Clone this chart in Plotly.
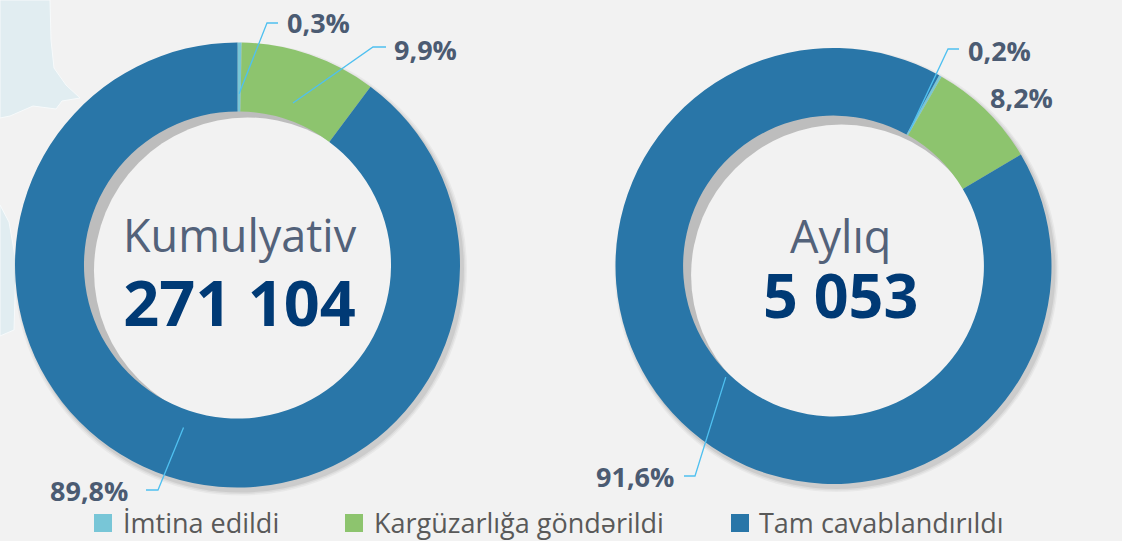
import math
import plotly.graph_objects as go

# ---------------- data ----------------
categories = ["İmtina edildi", "Kargüzarlığa göndərildi", "Tam cavablandırıldı"]
cumulative_pct = [0.3, 9.9, 89.8]
monthly_pct = [0.2, 8.2, 91.6]
chart_titles = ["Kumulyativ", "Aylıq"]
chart_totals = [271104, 5053]

# ---------------- style / layout ----------------
W, H = 1122, 541
BG = "#F2F2F2"
colors = ["#78C6D7", "#8DC46E", "#2976A8"]
LEADER = "#4FC0F0"
PCT_COLOR = "#4B5B72"
FONT = "Open Sans"


def px(x):
    return x / W


def py(y):
    return 1 - y / H


def fmt_pct(v):
    return f"{v:.1f}".replace(".", ",") + "%"


def fmt_total(n):
    return f"{n:,}".replace(",", " ")


# geometry of the two donuts (pixels)
donuts = [
    dict(values=cumulative_pct, cx=237.5, cy=265, R=222.5, rot=0, rf=0.77,
         shadow=(10, 6), centre_xy=(240, 274), gap_size=57, total_size=63),
    dict(values=monthly_pct, cx=833.5, cy=266, R=218, rot=29, rf=0.71,
         shadow=(8, 9), centre_xy=(840, 270), gap_size=50, total_size=61),
]
HOLE = 0.69

# label placement per slice: text position and optional leader (elbow x, elbow y, horizontal end x)
label_layout = [
    [dict(tx=285, ty=23, xa="left", leader=(267, 23, 278)),
     dict(tx=392, ty=49, xa="left", leader=(373, 47, 386)),
     dict(tx=130, ty=490, xa="right", leader=(158, 490, 146))],
    [dict(tx=966, ty=50, xa="left", leader=(948, 49, 959)),
     dict(tx=988, ty=97, xa="left", leader=None),
     dict(tx=676, ty=477, xa="right", leader=(695, 476, 684))],
]

fig = go.Figure()
shapes = []
annotations = []

# decorative pale map in the top-left corner
shapes.append(dict(
    type="path", xref="paper", yref="paper", layer="below",
    path="M {},{} L {},{} L {},{} L {},{} L {},{} L {},{} L {},{} L {},{} L {},{} L {},{} L {},{} Z".format(
        px(0), py(0), px(50), py(0), px(51), py(40), px(54), py(68), px(66), py(85),
        px(80), py(98), px(62), py(101), px(56), py(109), px(33), py(106), px(10), py(116), px(0), py(118)),
    fillcolor="#E1EDF1", line=dict(color="#F7FAFB", width=1)))
shapes.append(dict(
    type="path", xref="paper", yref="paper", layer="below",
    path="M {},{} L {},{} L {},{} L {},{} L {},{} Z".format(
        px(0), py(205), px(9), py(222), px(16), py(262), px(14), py(330), px(0), py(336)),
    fillcolor="#E1EDF1", line=dict(color="#F7FAFB", width=1)))


def circle(cx, cy, r, color, line=None):
    return dict(type="circle", xref="paper", yref="paper", layer="below",
                x0=px(cx - r), x1=px(cx + r), y0=py(cy + r), y1=py(cy - r),
                fillcolor=color, line=dict(width=0) if line is None else line)


for i, d in enumerate(donuts):
    cx, cy, R = d["cx"], d["cy"], d["R"]
    r_in = R * HOLE
    # soft outer shadow (bottom right)
    for dr, op in [(4, 0.04), (2.5, 0.05), (1, 0.07)]:
        shapes.append(circle(cx + 3, cy + 4, R + dr, f"rgba(0,0,0,{op})"))
    # inner shadow crescent
    shapes.append(circle(cx, cy, r_in + 2, "#BDBDBD"))
    sx, sy = d["shadow"]
    shapes.append(circle(cx + sx, cy + sy, r_in, BG))

    fig.add_trace(go.Pie(
        labels=categories, values=d["values"], hole=HOLE, sort=False,
        direction="clockwise", rotation=d["rot"],
        marker=dict(colors=colors, line=dict(width=0)),
        textinfo="none", hoverinfo="skip", showlegend=False,
        domain=dict(x=[px(cx - R), px(cx + R)], y=[py(cy + R), py(cy - R)]),
    ))

    # centre texts (title + total in one block)
    centre_text = (
        f"<span style='font-size:45px;color:#53627A'>{chart_titles[i]}</span><br>"
        f"<span style='font-size:{d['total_size']}px;color:#003A75'><b>{fmt_total(chart_totals[i])}</b></span>"
    )
    annotations.append(dict(
        text=centre_text, xref="paper", yref="paper",
        x=px(d["centre_xy"][0]), y=py(d["centre_xy"][1]), xanchor="center", yanchor="middle",
        align="center", showarrow=False,
        font=dict(family=FONT, size=d["gap_size"], color="#53627A")))

    # percentage labels and leader lines
    total = sum(d["values"])
    cum = 0.0
    for j, v in enumerate(d["values"]):
        mid = math.radians(d["rot"] + (cum + v / 2) / total * 360)
        cum += v
        ax = cx + d["rf"] * R * math.sin(mid)
        ay = cy - d["rf"] * R * math.cos(mid)
        lab = label_layout[i][j]
        annotations.append(dict(
            text=f"<b>{fmt_pct(v)}</b>", xref="paper", yref="paper",
            x=px(lab["tx"]), y=py(lab["ty"]), xanchor=lab["xa"], yanchor="middle",
            showarrow=False, font=dict(family=FONT, size=27, color=PCT_COLOR)))
        if lab["leader"] is not None:
            ex, ey, hx = lab["leader"]
            shapes.append(dict(
                type="path", xref="paper", yref="paper", layer="above",
                path=f"M {px(ax)},{py(ay)} L {px(ex)},{py(ey)} L {px(hx)},{py(ey)}",
                line=dict(color=LEADER, width=1.3)))

# legend (manual, to match the large square swatches)
legend_pos = [(94, 121), (345, 372), (731, 757)]
for k, cat in enumerate(categories):
    sx, tx = legend_pos[k]
    shapes.append(dict(type="rect", xref="paper", yref="paper", layer="above",
                       x0=px(sx), x1=px(sx + 18), y0=py(532), y1=py(514),
                       fillcolor=colors[k], line=dict(width=0)))
    annotations.append(dict(
        text=cat, xref="paper", yref="paper", x=px(tx), y=py(522),
        xanchor="left", yanchor="middle", showarrow=False,
        font=dict(family=FONT, size=27, color="#595959")))

fig.update_layout(
    width=W, height=H, margin=dict(l=0, r=0, t=0, b=0),
    paper_bgcolor=BG, plot_bgcolor=BG,
    shapes=shapes, annotations=annotations, showlegend=False,
)

fig.write_html(
    "out.html",
    config={"displayModeBar": False},
    post_script="document.body.style.margin='0';document.body.style.overflow='hidden';"
                "document.documentElement.style.overflow='hidden';",
)
